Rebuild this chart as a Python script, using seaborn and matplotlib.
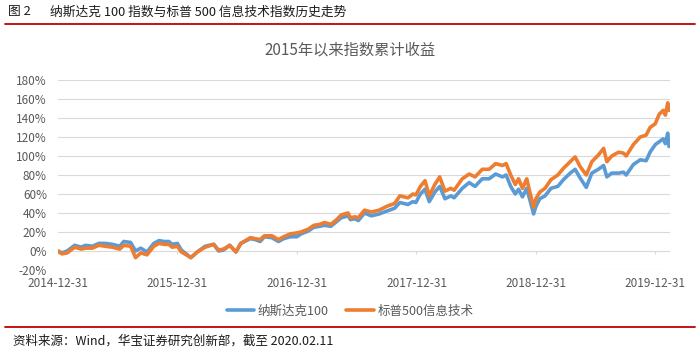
import matplotlib
matplotlib.use("Agg")
import matplotlib.pyplot as plt
from matplotlib.lines import Line2D
import seaborn as sns
import pandas as pd

# ---------------- data ----------------
dates = [
    "2014-12-31", "2015-01-12", "2015-01-28", "2015-02-20", "2015-03-12", "2015-03-25",
    "2015-04-15", "2015-05-05", "2015-05-25", "2015-06-15", "2015-07-08", "2015-07-20",
    "2015-08-10", "2015-08-25", "2015-09-10", "2015-09-29", "2015-10-20", "2015-11-05",
    "2015-11-20", "2015-12-05", "2015-12-15", "2015-12-31",
    "2016-01-12", "2016-01-27", "2016-02-10", "2016-03-01", "2016-03-25", "2016-04-20",
    "2016-05-05", "2016-05-20", "2016-06-08", "2016-06-27", "2016-07-12", "2016-08-10",
    "2016-08-25", "2016-09-09", "2016-09-22", "2016-10-15", "2016-11-04", "2016-11-20",
    "2016-12-10", "2016-12-30",
    "2017-01-12", "2017-02-03", "2017-02-20", "2017-03-10", "2017-03-25", "2017-04-13",
    "2017-05-01", "2017-05-15", "2017-06-05", "2017-06-12", "2017-06-26", "2017-07-06",
    "2017-07-25", "2017-08-15", "2017-09-08", "2017-10-01", "2017-10-25", "2017-11-10",
    "2017-12-05", "2017-12-20", "2017-12-29",
    "2018-01-12", "2018-01-26", "2018-02-08", "2018-02-25", "2018-03-12", "2018-03-28",
    "2018-04-15", "2018-04-25", "2018-05-20", "2018-06-10", "2018-06-28", "2018-07-20",
    "2018-08-10", "2018-08-30", "2018-09-20", "2018-10-01", "2018-10-15", "2018-10-29",
    "2018-11-08", "2018-11-20", "2018-12-03", "2018-12-14", "2018-12-24", "2018-12-31",
    "2019-01-12", "2019-01-28", "2019-02-15", "2019-03-08", "2019-03-25", "2019-04-15",
    "2019-04-30", "2019-05-15", "2019-06-03", "2019-06-20", "2019-07-10", "2019-07-26",
    "2019-08-05", "2019-08-20", "2019-09-10", "2019-09-25", "2019-10-03", "2019-10-25",
    "2019-11-15", "2019-12-03", "2019-12-15", "2019-12-31",
    "2020-01-12", "2020-01-24", "2020-01-31", "2020-02-07", "2020-02-11",
]

nasdaq100 = [
    0, -2, 0, 6, 4, 6, 5, 8, 8, 7, 5, 10, 9, 0, 3, -1, 8, 11, 10, 10, 7, 8,
    1, -3, -7, -1, 5, 7, 0, 1, 6, -1, 8, 13, 12, 10, 15, 14, 10, 13, 15, 15,
    18, 21, 25, 26, 27, 26, 31, 35, 37, 33, 34, 32, 40, 37, 39, 42, 45, 51, 49, 52, 51,
    60, 65, 52, 62, 68, 55, 58, 56, 66, 72, 68, 76, 76, 81, 78, 80, 68, 60, 65, 57, 66, 52, 39, 47,
    55, 58, 66, 68, 75, 82, 86, 77, 67, 82, 86, 90, 78, 82, 82, 83, 80, 91, 96, 95, 104, 112,
    115, 118, 113, 124, 110,
]

sp500_it = [
    0, -3, -2, 4, 2, 3, 3, 6, 5, 4, 2, 6, 5, -7, -2, -4, 5, 8, 7, 7, 4, 5,
    -1, -4, -7, -1, 4, 7, 1, 2, 6, -1, 8, 14, 13, 12, 16, 16, 12, 15, 18, 19,
    20, 23, 27, 28, 30, 28, 33, 38, 40, 35, 36, 35, 43, 41, 43, 47, 50, 58, 56, 60, 59,
    68, 74, 58, 70, 78, 63, 66, 64, 76, 81, 78, 86, 86, 92, 90, 92, 80, 70, 76, 66, 76, 60, 46, 55,
    62, 66, 75, 80, 87, 94, 99, 89, 80, 94, 101, 108, 94, 100, 104, 103, 100, 112, 120, 122, 130, 134,
    144, 148, 143, 156, 148,
]

series_names = ["纳斯达克100", "标普500信息技术"]
series_colors = ["#5B9BD5", "#ED7D31"]
x_tick_dates = ["2014-12-31", "2015-12-31", "2016-12-31", "2017-12-31", "2018-12-31", "2019-12-31"]
y_ticks = [-20, 0, 20, 40, 60, 80, 100, 120, 140, 160, 180]

header_label = "图 2"
header_text = "纳斯达克 100 指数与标普 500 信息技术指数历史走势"
title_text = "2015年以来指数累计收益"
source_text = "资料来源：Wind，华宝证券研究创新部，截至 2020.02.11"

# ---------------- figure ----------------
sns.set_theme(style="white")
plt.rcParams["font.family"] = ["Noto Sans CJK SC", "DejaVu Sans"]

n = len(dates)
df = pd.DataFrame({
    "date": pd.to_datetime(dates * 2),
    "value": nasdaq100 + sp500_it,
    "series": [series_names[0]] * n + [series_names[1]] * n,
})

W, H = 700, 353
fig = plt.figure(figsize=(W / 100, H / 100), dpi=100)
fig.patch.set_facecolor("white")

ax = fig.add_axes([58 / W, (H - 270) / H, 612 / W, 190 / H])
sns.lineplot(data=df, x="date", y="value", hue="series", hue_order=series_names,
             palette=series_colors, linewidth=2.6, ax=ax, legend=False)

ax.set_ylim(y_ticks[0], y_ticks[-1])
ax.set_yticks(y_ticks)
ax.set_yticklabels([f"{v}%" for v in y_ticks])
ax.yaxis.grid(True, color="#D9D9D9", linewidth=0.8)
ax.xaxis.grid(False)
ax.set_axisbelow(True)
for s in ax.spines.values():
    s.set_visible(False)

xt = pd.to_datetime(x_tick_dates)
ax.set_xlim(pd.Timestamp("2014-12-31"), pd.Timestamp("2020-02-14"))
ax.set_xticks(xt)
ax.set_xticklabels(x_tick_dates)
ax.vlines(xt, -3.2, 0, color="#D9D9D9", linewidth=0.8, zorder=0)
ax.set_xlabel("")
ax.set_ylabel("")
ax.tick_params(axis="y", length=0, labelsize=8.5, labelcolor="#595959", pad=8)
ax.tick_params(axis="x", length=0, labelsize=8.5, labelcolor="#595959", pad=5)

# legend
handles = [Line2D([], [], color=c, linewidth=2.6) for c in series_colors]
fig.legend(handles, series_names, loc="center", bbox_to_anchor=(350 / W, 1 - 311 / H),
           ncol=2, frameon=False, fontsize=9, handlelength=2.2, handletextpad=0.3,
           columnspacing=1.4, labelcolor="#595959")

# titles and decorations
fig.text(8 / W, 1 - 12 / H, header_label, ha="left", va="center", fontsize=9.2, color="#1a1a1a")
fig.text(50 / W, 1 - 12 / H, header_text, ha="left", va="center", fontsize=9.2, color="#1a1a1a")
fig.add_artist(Line2D([5 / W, 695 / W], [1 - 24 / H] * 2, color="#C00000", linewidth=1.3))
fig.text(350 / W, 1 - 50 / H, title_text, ha="center", va="center", fontsize=11, color="#595959")
fig.add_artist(Line2D([5 / W, 695 / W], [1 - 327 / H] * 2, color="#C00000", linewidth=1.3))
fig.text(13 / W, 1 - 341 / H, source_text, ha="left", va="center", fontsize=9, color="#1a1a1a")

fig.savefig("out.png", dpi=100, facecolor="white")
